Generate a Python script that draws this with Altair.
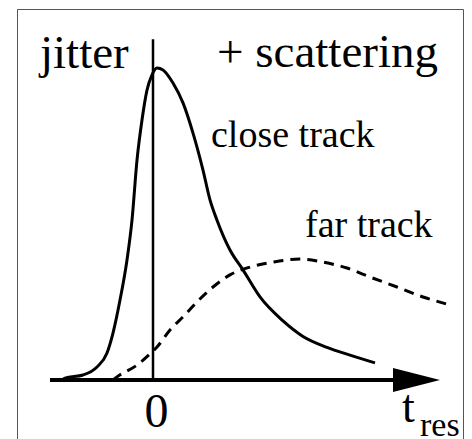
import altair as alt
import pandas as pd

# Time-residual distributions: close track (narrow, jitter + scattering tail)
close_t = [-1.82, -1.76, -1.40, -1.12, -0.92, -0.80, -0.66, -0.52, -0.42, -0.32,
           -0.22, -0.12, -0.02, 0.08, 0.20, 0.40, 0.60, 0.80, 1.00, 1.14,
           1.28, 1.54, 1.80, 2.14, 2.60, 3.00, 3.48, 3.94, 4.44]
close_p = [0.000, 0.006, 0.016, 0.042, 0.087, 0.151, 0.257, 0.386, 0.514, 0.707,
           0.836, 0.932, 0.981, 1.003, 0.997, 0.955, 0.891, 0.794, 0.675, 0.579,
           0.514, 0.418, 0.354, 0.267, 0.190, 0.140, 0.105, 0.080, 0.055]

# Far track: broad, delayed distribution
far_t = [-0.80, -0.72, -0.32, -0.02, 0.08, 0.34, 0.60, 0.88, 1.20, 1.54,
         1.94, 2.40, 2.94, 3.40, 3.88, 4.34, 4.88, 5.40, 5.88]
far_p = [0.000, 0.010, 0.048, 0.090, 0.106, 0.161, 0.203, 0.251, 0.299, 0.338,
         0.363, 0.379, 0.389, 0.379, 0.360, 0.331, 0.299, 0.267, 0.244]

# Text annotations
label_text = ["jitter", "+ scattering", "close track", "far track", "0", "t", "res"]
label_x = [-2.26, 5.70, 1.16, 3.04, 0.07, 4.98, 5.34]
label_y = [1.003, 1.006, 0.749, 0.460, -0.151, -0.135, -0.181]
label_size = [47, 47, 38, 38, 48, 46, 34]
label_align = ["left", "right", "left", "left", "center", "left", "left"]

# Axis extents (t_res axis with arrow, vertical marker at t = 0)
axis_start, arrow_base, arrow_tip, arrow_half = -2.06, 4.80, 5.74, 0.0386
zero_top = 1.096

# Surrounding frame
frame_left, frame_right, frame_top, frame_bottom = -2.71, 6.21, 1.1913, -0.25

xs = alt.Scale(domain=[-3.06, 6.38], nice=False, zero=False)
ys = alt.Scale(domain=[-0.1897, 1.2219], nice=False, zero=False)


def X(f):
    return alt.X(f, type="quantitative", scale=xs, axis=None)


def Y(f):
    return alt.Y(f, type="quantitative", scale=ys, axis=None)


close_df = pd.DataFrame({"t": close_t, "p": close_p})
far_df = pd.DataFrame({"t": far_t, "p": far_p})

close_line = alt.Chart(close_df).mark_line(
    color="black", strokeWidth=3, interpolate="monotone"
).encode(x=X("t"), y=Y("p"))

far_line = alt.Chart(far_df).mark_line(
    color="black", strokeWidth=3, strokeDash=[10, 7], interpolate="monotone"
).encode(x=X("t"), y=Y("p"))

axis_df = pd.DataFrame({"x1": [axis_start], "x2": [arrow_base + 0.2], "y": [0.0]})
axis_line = alt.Chart(axis_df).mark_rule(color="black", strokeWidth=4).encode(
    x=X("x1"), x2="x2", y=Y("y")
)

arrow_df = pd.DataFrame({
    "x": [arrow_base, arrow_tip],
    "lo": [-arrow_half, 0.0],
    "hi": [arrow_half, 0.0],
})
arrow = alt.Chart(arrow_df).mark_area(color="black").encode(
    x=X("x"), y=Y("lo"), y2="hi"
)

zero_df = pd.DataFrame({"x": [0.0], "y1": [0.0], "y2": [zero_top]})
zero_line = alt.Chart(zero_df).mark_rule(color="black", strokeWidth=2.5).encode(
    x=X("x"), y=Y("y1"), y2="y2"
)

frame_v = pd.DataFrame({"x": [frame_left, frame_right],
                        "y1": [frame_bottom, frame_bottom],
                        "y2": [frame_top, frame_top]})
frame_h = pd.DataFrame({"x1": [frame_left], "x2": [frame_right], "y": [frame_top]})
frame_sides = alt.Chart(frame_v).mark_rule(color="#555555", strokeWidth=1).encode(
    x=X("x"), y=Y("y1"), y2="y2"
)
frame_topline = alt.Chart(frame_h).mark_rule(color="#555555", strokeWidth=1).encode(
    x=X("x1"), x2="x2", y=Y("y")
)

FONT = "Liberation Serif"

labels = []
for txt, lx, ly, sz, al in zip(label_text, label_x, label_y, label_size, label_align):
    df = pd.DataFrame({"label": [txt], "x": [lx], "y": [ly]})
    labels.append(
        alt.Chart(df).mark_text(
            font=FONT, fontSize=sz, color="black", align=al, baseline="alphabetic"
        ).encode(x=X("x"), y=Y("y"), text="label:N")
    )

chart = alt.layer(
    frame_sides, frame_topline, far_line, close_line, zero_line, axis_line, arrow,
    *labels
).properties(
    width=472, height=439, padding=0, autosize=alt.AutoSizeParams(type="none")
).configure(
    background="white", font=FONT
).configure_text(
    font=FONT
).configure_view(stroke=None)

chart.save("out.html", embed_options={"renderer": "svg", "actions": False})
